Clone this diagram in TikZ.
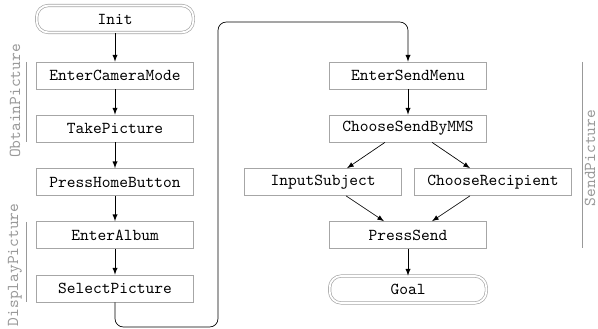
\documentclass[tikz,border=0pt]{standalone}
\usepackage{tikz}
\usetikzlibrary{arrows}

\tikzset{
  state/.style={draw=gray!70, minimum width=94pt, minimum height=16.2pt, inner sep=2pt, font=\ttfamily},
  terminal/.style={state, rounded corners=7pt, double, double distance=1.1pt},
  phase/.style={rotate=90, text=gray!80, font=\ttfamily},
  phaseline/.style={gray!80, line width=0.6pt}
}

\begin{document}
\begin{tikzpicture}[x=0.6pt, y=-0.6pt, >=latex]
\useasboundingbox (0,0) rectangle (598,329);

\node[terminal] (Init) at (115,19) {Init};
\node[state] (EnterCameraMode) at (115,75.5) {EnterCameraMode};
\node[state] (TakePicture) at (115,128.5) {TakePicture};
\node[state] (PressHomeButton) at (115,182) {PressHomeButton};
\node[state] (EnterAlbum) at (115,235) {EnterAlbum};
\node[state] (SelectPicture) at (115,288.5) {SelectPicture};

\node[state] (EnterSendMenu) at (408,75.5) {EnterSendMenu};
\node[state] (ChooseSendByMMS) at (408,128.5) {ChooseSendByMMS};
\node[state] (InputSubject) at (323,182) {InputSubject};
\node[state] (ChooseRecipient) at (493,182) {ChooseRecipient};
\node[state] (PressSend) at (408,235) {PressSend};
\node[terminal] (Goal) at (408,289.5) {Goal};

\draw[->] (Init)--(EnterCameraMode);
\draw[->] (EnterCameraMode)--(TakePicture);
\draw[->] (TakePicture)--(PressHomeButton);
\draw[->] (PressHomeButton)--(EnterAlbum);
\draw[->] (EnterAlbum)--(SelectPicture);

\coordinate (loopB) at (218,327);
\coordinate (loopT) at (218,22);
\draw[->, rounded corners=5pt] (SelectPicture.south) |- (loopB) -- (loopT) -| (EnterSendMenu.north);

\draw[->] (EnterSendMenu)--(ChooseSendByMMS);
\draw[->] ([xshift=-13.8pt]ChooseSendByMMS.south)--([xshift=14.4pt]InputSubject.north);
\draw[->] ([xshift=14.4pt]ChooseSendByMMS.south)--([xshift=-13.8pt]ChooseRecipient.north);
\draw[->] ([xshift=13.8pt]InputSubject.south)--([xshift=-14.4pt]PressSend.north);
\draw[->] ([xshift=-13.8pt]ChooseRecipient.south)--([xshift=14.4pt]PressSend.north);
\draw[->] (PressSend)--(Goal);

% phases
\draw[phaseline] (26,62)--(26,142);
\node[phase] (ObtainPicture) at (15,101) {ObtainPicture};
\draw[phaseline] (26,222)--(26,302);
\node[phase] (DisplayPicture) at (15,265) {DisplayPicture};
\draw[phaseline] (582,62)--(582,248);
\node[phase] (SendPicture) at (590,158) {SendPicture};

\end{tikzpicture}
\end{document}
